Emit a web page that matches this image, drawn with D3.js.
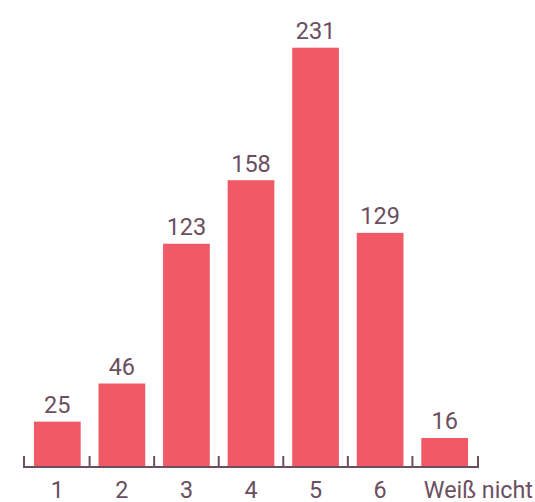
<!DOCTYPE html>
<html><head><meta charset="utf-8">
<script src="https://cdn.jsdelivr.net/npm/d3@7"></script>
<style>body{margin:0;background:#fff}svg{display:block}</style>
</head><body>
<svg id="c" width="535" height="502"></svg>
<script>
const categories = ["1","2","3","4","5","6","Weiß nicht"];
const values = [25,46,123,158,231,129,16];

const barColor = "#f05a67", textColor = "#6b4f5f";
const svg = d3.select("#c");
const x = d3.scaleBand().domain(categories).range([24, 478]).paddingInner(0.276).paddingOuter(0.154);
const y = d3.scaleLinear().domain([0, 231]).range([467, 47.7]);
const step = x.step(), bw = x.bandwidth(), gap = (step - bw) / 2;

svg.selectAll("rect.bar").data(categories).join("rect")
  .attr("x", d => x(d)).attr("width", bw)
  .attr("y", (d,i) => y(values[i])).attr("height", (d,i) => y(0) - y(values[i]))
  .attr("fill", barColor);

svg.selectAll("text.val").data(categories).join("text")
  .attr("x", d => x(d) + bw/2).attr("y", (d,i) => y(values[i]) - 8.5)
  .attr("text-anchor", "middle").attr("font-family", "Roboto").attr("font-size", 23.5)
  .attr("fill", textColor).text((d,i) => values[i]);

// axis
const axisY = y(0);
svg.append("line").attr("x1", 23).attr("x2", 479).attr("y1", axisY).attr("y2", axisY)
  .attr("stroke", textColor).attr("stroke-width", 2);
const tickXs = categories.map(d => x(d) - gap).concat([x.range()[1]]);
tickXs[0] = x.range()[0];
svg.selectAll("line.tick").data(tickXs).join("line")
  .attr("x1", d => d).attr("x2", d => d).attr("y1", axisY + 1).attr("y2", axisY - 11)
  .attr("stroke", textColor).attr("stroke-width", 2);

svg.selectAll("text.lab").data(categories).join("text")
  .attr("x", (d,i) => i === categories.length - 1 ? x(d) + 2.5 : x(d) + bw/2)
  .attr("text-anchor", (d,i) => i === categories.length - 1 ? "start" : "middle")
  .attr("y", 497.5)
  .attr("font-family", "Roboto").attr("font-size", 23.3).attr("fill", textColor)
  .text(d => d);
</script>
</body></html>
